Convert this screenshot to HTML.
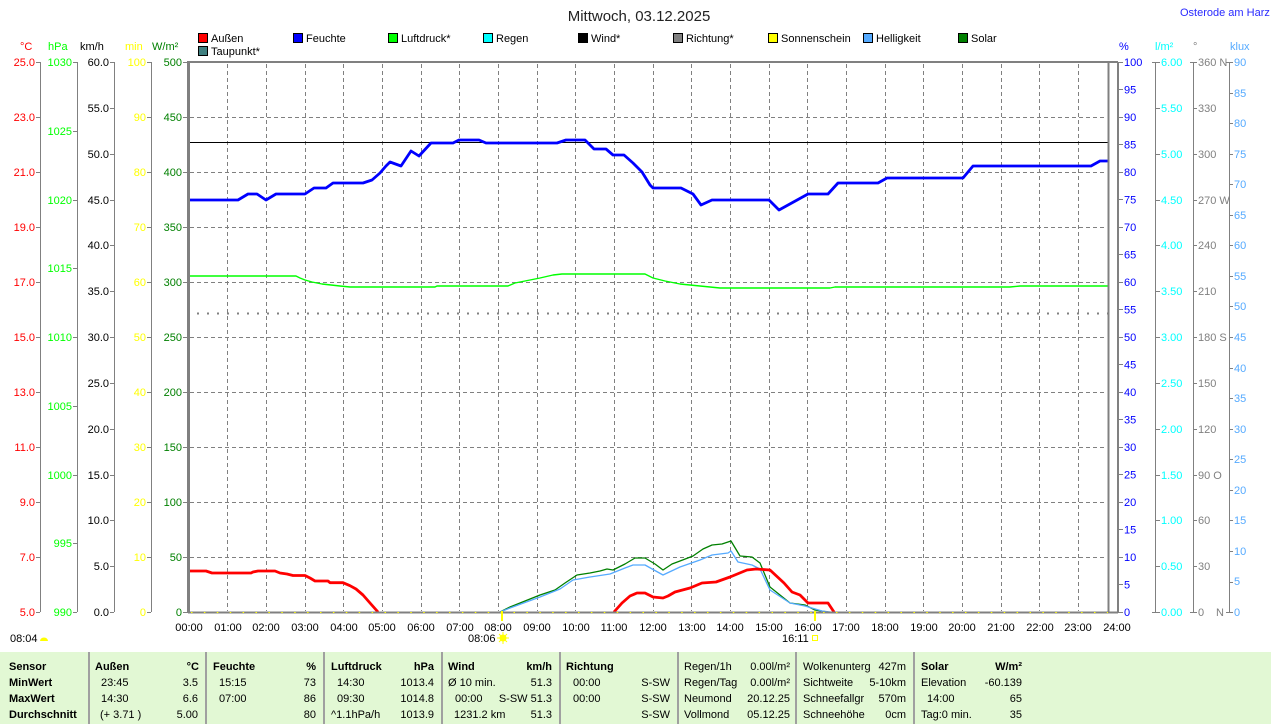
<!DOCTYPE html>
<html><head><meta charset="utf-8"><style>
html,body{margin:0;padding:0;background:#fff;}
svg{display:block;}
text{font-family:"Liberation Sans",Arial,sans-serif;font-size:11px;}
</style></head><body>
<svg width="1274" height="724" viewBox="0 0 1274 724" xmlns="http://www.w3.org/2000/svg">
<rect width="1274" height="724" fill="#fff"/>

<!-- title -->
<text x="639" y="21" text-anchor="middle" style="font-size:15px" fill="#222">Mittwoch, 03.12.2025</text>
<text x="1180" y="16" fill="#2a2aff">Osterode am Harz</text>

<!-- legend -->
<g stroke="#000" stroke-width="1" shape-rendering="crispEdges">
<rect x="198.5" y="33.5" width="9" height="9" fill="#ff0000"/>
<rect x="293.5" y="33.5" width="9" height="9" fill="#0000ff"/>
<rect x="388.5" y="33.5" width="9" height="9" fill="#00ff00"/>
<rect x="483.5" y="33.5" width="9" height="9" fill="#00ffff"/>
<rect x="578.5" y="33.5" width="9" height="9" fill="#000000"/>
<rect x="673.5" y="33.5" width="9" height="9" fill="#808080"/>
<rect x="768.5" y="33.5" width="9" height="9" fill="#ffff00"/>
<rect x="863.5" y="33.5" width="9" height="9" fill="#55aaff"/>
<rect x="958.5" y="33.5" width="9" height="9" fill="#008000"/>
<rect x="198.5" y="46.5" width="9" height="9" fill="#408080"/>
</g>
<g fill="#000">
<text x="211" y="42">Außen</text>
<text x="306" y="42">Feuchte</text>
<text x="401" y="42">Luftdruck*</text>
<text x="496" y="42">Regen</text>
<text x="591" y="42">Wind*</text>
<text x="686" y="42">Richtung*</text>
<text x="781" y="42">Sonnenschein</text>
<text x="876" y="42">Helligkeit</text>
<text x="971" y="42">Solar</text>
<text x="211" y="55">Taupunkt*</text>
</g>

<!-- axis headers -->
<text x="20" y="50" fill="#ff0000">°C</text>
<text x="48" y="50" fill="#00ff00">hPa</text>
<text x="80" y="50" fill="#000">km/h</text>
<text x="125" y="50" fill="#ffff00">min</text>
<text x="152" y="50" fill="#008000">W/m²</text>
<text x="1119" y="50" fill="#0000ff">%</text>
<text x="1155" y="50" fill="#00ffff">l/m²</text>
<text x="1193" y="50" fill="#808080">°</text>
<text x="1230" y="50" fill="#55aaff">klux</text>

<!-- grid -->
<g stroke="#808080" stroke-width="1" stroke-dasharray="4,3" shape-rendering="crispEdges" fill="none">
<path d="M190 117.5H1107M190 172.5H1107M190 227.5H1107M190 282.5H1107M190 337.5H1107M190 392.5H1107M190 447.5H1107M190 502.5H1107M190 557.5H1107"/>
<path d="M227.5 64V611M266.5 64V611M305.5 64V611M343.5 64V611M382.5 64V611M421.5 64V611M459.5 64V611M498.5 64V611M537.5 64V611M575.5 64V611M614.5 64V611M653.5 64V611M691.5 64V611M730.5 64V611M769.5 64V611M807.5 64V611M846.5 64V611M885.5 64V611M923.5 64V611M962.5 64V611M1001.5 64V611M1039.5 64V611M1078.5 64V611"/>
</g>

<!-- left axes lines & ticks -->
<g stroke="#808080" stroke-width="1" fill="none" shape-rendering="crispEdges">
<path d="M40.5 62V612"/>
<path d="M36 62.5H40M36 117.5H40M36 172.5H40M36 227.5H40M36 282.5H40M36 337.5H40M36 392.5H40M36 447.5H40M36 502.5H40M36 557.5H40M36 612.5H40"/>
<path d="M77.5 62V612"/>
<path d="M73 62.5H77M73 131.5H77M73 200.5H77M73 268.5H77M73 337.5H77M73 406.5H77M73 475.5H77M73 543.5H77M73 612.5H77"/>
<path d="M114.5 62V612"/>
<path d="M110 62.5H114M110 108.5H114M110 154.5H114M110 200.5H114M110 245.5H114M110 291.5H114M110 337.5H114M110 383.5H114M110 429.5H114M110 475.5H114M110 520.5H114M110 566.5H114M110 612.5H114"/>
<path d="M151.5 62V612"/>
<path d="M147 62.5H151M147 117.5H151M147 172.5H151M147 227.5H151M147 282.5H151M147 337.5H151M147 392.5H151M147 447.5H151M147 502.5H151M147 557.5H151M147 612.5H151"/>
<path d="M183 62.5H187M183 117.5H187M183 172.5H187M183 227.5H187M183 282.5H187M183 337.5H187M183 392.5H187M183 447.5H187M183 502.5H187M183 557.5H187M183 612.5H187"/>
<!-- right axes -->
<path d="M1119 62.5H1123M1119 89.5H1123M1119 117.5H1123M1119 144.5H1123M1119 172.5H1123M1119 199.5H1123M1119 227.5H1123M1119 254.5H1123M1119 282.5H1123M1119 309.5H1123M1119 337.5H1123M1119 364.5H1123M1119 392.5H1123M1119 419.5H1123M1119 447.5H1123M1119 474.5H1123M1119 502.5H1123M1119 529.5H1123M1119 557.5H1123M1119 584.5H1123M1119 612.5H1123"/>
<path d="M1155.5 62V612"/>
<path d="M1152 62.5H1160M1155 108.5H1160M1155 154.5H1160M1155 200.5H1160M1155 245.5H1160M1155 291.5H1160M1155 337.5H1160M1155 383.5H1160M1155 429.5H1160M1155 475.5H1160M1155 520.5H1160M1155 566.5H1160M1152 612.5H1160"/>
<path d="M1193.5 62V612"/>
<path d="M1190 62.5H1197M1193 108.5H1197M1193 154.5H1197M1193 200.5H1197M1193 245.5H1197M1193 291.5H1197M1193 337.5H1197M1193 383.5H1197M1193 429.5H1197M1193 475.5H1197M1193 520.5H1197M1193 566.5H1197M1190 612.5H1197"/>
<path d="M1229.5 62V612"/>
<path d="M1226 62.5H1233M1229 93.5H1233M1229 123.5H1233M1229 154.5H1233M1229 184.5H1233M1229 215.5H1233M1229 245.5H1233M1229 276.5H1233M1229 306.5H1233M1229 337.5H1233M1229 368.5H1233M1229 398.5H1233M1229 429.5H1233M1229 459.5H1233M1229 490.5H1233M1229 520.5H1233M1229 551.5H1233M1229 582.5H1233M1226 612.5H1233"/>
</g>

<!-- left axis labels -->
<g fill="#ff0000" text-anchor="end">
<text x="35" y="66">25.0</text><text x="35" y="121">23.0</text><text x="35" y="176">21.0</text><text x="35" y="231">19.0</text><text x="35" y="286">17.0</text><text x="35" y="341">15.0</text><text x="35" y="396">13.0</text><text x="35" y="451">11.0</text><text x="35" y="506">9.0</text><text x="35" y="561">7.0</text><text x="35" y="616">5.0</text>
</g>
<g fill="#00ff00" text-anchor="end">
<text x="72" y="66">1030</text><text x="72" y="135">1025</text><text x="72" y="204">1020</text><text x="72" y="272">1015</text><text x="72" y="341">1010</text><text x="72" y="410">1005</text><text x="72" y="479">1000</text><text x="72" y="547">995</text><text x="72" y="616">990</text>
</g>
<g fill="#000" text-anchor="end">
<text x="109" y="66">60.0</text><text x="109" y="112">55.0</text><text x="109" y="158">50.0</text><text x="109" y="204">45.0</text><text x="109" y="249">40.0</text><text x="109" y="295">35.0</text><text x="109" y="341">30.0</text><text x="109" y="387">25.0</text><text x="109" y="433">20.0</text><text x="109" y="479">15.0</text><text x="109" y="524">10.0</text><text x="109" y="570">5.0</text><text x="109" y="616">0.0</text>
</g>
<g fill="#ffff00" text-anchor="end">
<text x="146" y="66">100</text><text x="146" y="121">90</text><text x="146" y="176">80</text><text x="146" y="231">70</text><text x="146" y="286">60</text><text x="146" y="341">50</text><text x="146" y="396">40</text><text x="146" y="451">30</text><text x="146" y="506">20</text><text x="146" y="561">10</text><text x="146" y="616">0</text>
</g>
<g fill="#008000" text-anchor="end">
<text x="182" y="66">500</text><text x="182" y="121">450</text><text x="182" y="176">400</text><text x="182" y="231">350</text><text x="182" y="286">300</text><text x="182" y="341">250</text><text x="182" y="396">200</text><text x="182" y="451">150</text><text x="182" y="506">100</text><text x="182" y="561">50</text><text x="182" y="616">0</text>
</g>

<!-- right axis labels -->
<g fill="#0000ff">
<text x="1124" y="66">100</text><text x="1124" y="93.5">95</text><text x="1124" y="121">90</text><text x="1124" y="148.5">85</text><text x="1124" y="176">80</text><text x="1124" y="203.5">75</text><text x="1124" y="231">70</text><text x="1124" y="258.5">65</text><text x="1124" y="286">60</text><text x="1124" y="313.5">55</text><text x="1124" y="341">50</text><text x="1124" y="368.5">45</text><text x="1124" y="396">40</text><text x="1124" y="423.5">35</text><text x="1124" y="451">30</text><text x="1124" y="478.5">25</text><text x="1124" y="506">20</text><text x="1124" y="533.5">15</text><text x="1124" y="561">10</text><text x="1124" y="588.5">5</text><text x="1124" y="616">0</text>
</g>
<g fill="#00ffff">
<text x="1161" y="66">6.00</text><text x="1161" y="112">5.50</text><text x="1161" y="158">5.00</text><text x="1161" y="204">4.50</text><text x="1161" y="249">4.00</text><text x="1161" y="295">3.50</text><text x="1161" y="341">3.00</text><text x="1161" y="387">2.50</text><text x="1161" y="433">2.00</text><text x="1161" y="479">1.50</text><text x="1161" y="524">1.00</text><text x="1161" y="570">0.50</text><text x="1161" y="616">0.00</text>
</g>
<g fill="#808080">
<text x="1198" y="66">360 N</text><text x="1198" y="112">330</text><text x="1198" y="158">300</text><text x="1198" y="204">270 W</text><text x="1198" y="249">240</text><text x="1198" y="295">210</text><text x="1198" y="341">180 S</text><text x="1198" y="387">150</text><text x="1198" y="433">120</text><text x="1198" y="479">90 O</text><text x="1198" y="524">60</text><text x="1198" y="570">30</text><text x="1198" y="616">0</text><text x="1216" y="616">N</text>
</g>
<g fill="#55aaff">
<text x="1234" y="66">90</text><text x="1234" y="97">85</text><text x="1234" y="127">80</text><text x="1234" y="158">75</text><text x="1234" y="188">70</text><text x="1234" y="219">65</text><text x="1234" y="249">60</text><text x="1234" y="280">55</text><text x="1234" y="310">50</text><text x="1234" y="341">45</text><text x="1234" y="372">40</text><text x="1234" y="402">35</text><text x="1234" y="433">30</text><text x="1234" y="463">25</text><text x="1234" y="494">20</text><text x="1234" y="524">15</text><text x="1234" y="555">10</text><text x="1234" y="585">5</text><text x="1234" y="616">0</text>
</g>

<!-- series -->
<g fill="none" stroke-linejoin="round">
<!-- pressure -->
<polyline stroke="#00ff00" stroke-width="1.4" points="188,276 296,276 300,278 305,280 312,282 322,284 340,286 350,287 435,287 437,286 508,286 515,283 525,281 540,278 553,275 562,274 645,274 653,278 665,281 680,284 700,286 720,288 830,288 835,287 1010,287 1020,286 1108,286"/>
<!-- wind -->
<path d="M189 142.5H1108" stroke="#000" stroke-width="1" shape-rendering="crispEdges"/>
<!-- direction dotted -->
<path d="M197 313.5H1108" stroke="#808080" stroke-width="2" stroke-dasharray="2,8"/>
<!-- humidity -->
<polyline stroke="#0000ff" stroke-width="2.8" points="189,200 238,200 248,194 257,194 266,200 276,194 305,194 314,188 326,188 333,183 363,183 372,180 380,173 386,166 390,162 401,166 411,151 419,156 431,143 453,143 459,140 479,140 486,143 557,143 566,140 585,140 594,149 606,149 613,155 624,155 633,163 642,172 650,185 653,188 681,188 687,191 693,194 701,205 712,200 769,200 779,210 808,194 828,194 838,183 878,183 887,178 963,178 973,166 1091,166 1100,161 1108,161"/>
<!-- solar -->
<polyline stroke="#008000" stroke-width="1.3" points="500,612 510,607 540,595 555,590 565,583 577,575 590,573 600,571 607,569 613,570 625,564 635,558 645,558 655,564 663,570 672,564 680,561 693,556 703,549 712,545 722,544 731,541 740,556 752,557 760,563 770,587 790,603 805,605 815,610 828,612"/>
<!-- brightness -->
<polyline stroke="#55aaff" stroke-width="1.3" points="500,612 510,608 540,597 560,589 573,580 590,577 610,574 625,568 633,565 645,565 663,575 680,567 700,560 712,555 728,553 731,551 738,562 752,565 760,569 770,590 790,603 805,606 822,611 830,612"/>
<!-- temperature -->
<polyline stroke="#ff0000" stroke-width="2.8" points="189,571 206,571 209,572 212,573 251,573 253,572 258,571 275,571 280,573 287,574 293,575.5 305,575.5 310,578 315,581 328,581 330,582.7 343,582.7 350,585.7 356,589 363,595 370,603 378,612"/>
<polyline stroke="#ff0000" stroke-width="2.8" points="614,612 622,603 630,596 637,593 645,593 653,597 663,598 668,596 675,592 690,588 702,583 716,582 730,577 747,570 756,569 770,570 784,583 792,592 800,595 808,603 828,603 834,612"/>
</g>

<!-- frame -->
<g stroke="#808080" fill="none" shape-rendering="crispEdges">
<path d="M188.5 61V613" stroke-width="3"/>
<path d="M188 62H1118" stroke-width="2"/>
<path d="M188 612.5H1118" stroke-width="2"/>
<path d="M1108.5 62V612" stroke-width="2"/>
<path d="M1118 62V613" stroke-width="2"/>
</g>
<!-- sunshine dots -->
<path d="M191 612.5H1108" stroke="#ffff00" stroke-width="1" stroke-dasharray="1.5,11.4" fill="none"/>
<!-- sunrise/sunset markers -->
<path d="M502 611V621M815 611V621" stroke="#ffff00" stroke-width="2" fill="none"/>

<!-- x labels -->
<g fill="#000" text-anchor="middle">
<text x="189" y="631">00:00</text><text x="228" y="631">01:00</text><text x="266" y="631">02:00</text><text x="305" y="631">03:00</text><text x="344" y="631">04:00</text><text x="382" y="631">05:00</text><text x="421" y="631">06:00</text><text x="460" y="631">07:00</text><text x="498" y="631">08:00</text><text x="537" y="631">09:00</text><text x="576" y="631">10:00</text><text x="614" y="631">11:00</text><text x="653" y="631">12:00</text><text x="692" y="631">13:00</text><text x="730" y="631">14:00</text><text x="769" y="631">15:00</text><text x="808" y="631">16:00</text><text x="846" y="631">17:00</text><text x="885" y="631">18:00</text><text x="924" y="631">19:00</text><text x="962" y="631">20:00</text><text x="1001" y="631">21:00</text><text x="1040" y="631">22:00</text><text x="1078" y="631">23:00</text><text x="1117" y="631">24:00</text>
</g>
<text x="10" y="642" fill="#000">08:04</text>
<path d="M40 641 A4 3.5 0 0 1 48 641 Z" fill="#ffff00"/>
<text x="468" y="642" fill="#000">08:06</text>
<g stroke="#ffff00" stroke-width="1"><path d="M503 632V644M497 638H509M499 634L507 642M507 634L499 642"/></g>
<circle cx="503" cy="638" r="3.5" fill="#ffff00"/>
<text x="782" y="642" fill="#000">16:11</text>
<rect x="812.5" y="635.5" width="5" height="5" fill="none" stroke="#ffff00" stroke-width="1" shape-rendering="crispEdges"/>

<!-- table -->
<rect x="0" y="652" width="1271" height="72" fill="#e2f8d4"/>
<g stroke="#a0a0a0" stroke-width="2" shape-rendering="crispEdges">
<path d="M89 652V724M206 652V724M324 652V724M442 652V724M560 652V724M678 652V724M796 652V724M914 652V724"/>
</g>
<g fill="#000" style="font-weight:bold">
<text x="9" y="670">Sensor</text>
<text x="9" y="686">MinWert</text>
<text x="9" y="702">MaxWert</text>
<text x="9" y="718">Durchschnitt</text>
<text x="95" y="670">Außen</text>
<text x="199" y="670" text-anchor="end">°C</text>
<text x="213" y="670">Feuchte</text>
<text x="316" y="670" text-anchor="end">%</text>
<text x="331" y="670">Luftdruck</text>
<text x="434" y="670" text-anchor="end">hPa</text>
<text x="448" y="670">Wind</text>
<text x="552" y="670" text-anchor="end">km/h</text>
<text x="566" y="670">Richtung</text>
<text x="921" y="670">Solar</text>
<text x="1022" y="670" text-anchor="end">W/m²</text>
</g>
<g fill="#000">
<text x="101" y="686">23:45</text><text x="198" y="686" text-anchor="end">3.5</text>
<text x="101" y="702">14:30</text><text x="198" y="702" text-anchor="end">6.6</text>
<text x="100" y="718">(+ 3.71 )</text><text x="198" y="718" text-anchor="end">5.00</text>
<text x="219" y="686">15:15</text><text x="316" y="686" text-anchor="end">73</text>
<text x="219" y="702">07:00</text><text x="316" y="702" text-anchor="end">86</text>
<text x="316" y="718" text-anchor="end">80</text>
<text x="337" y="686">14:30</text><text x="434" y="686" text-anchor="end">1013.4</text>
<text x="337" y="702">09:30</text><text x="434" y="702" text-anchor="end">1014.8</text>
<text x="331" y="718">^1.1hPa/h</text><text x="434" y="718" text-anchor="end">1013.9</text>
<text x="448" y="686">Ø 10 min.</text><text x="552" y="686" text-anchor="end">51.3</text>
<text x="455" y="702">00:00</text><text x="552" y="702" text-anchor="end">S-SW 51.3</text>
<text x="454" y="718">1231.2 km</text><text x="552" y="718" text-anchor="end">51.3</text>
<text x="573" y="686">00:00</text><text x="670" y="686" text-anchor="end">S-SW</text>
<text x="573" y="702">00:00</text><text x="670" y="702" text-anchor="end">S-SW</text>
<text x="670" y="718" text-anchor="end">S-SW</text>
<text x="684" y="670">Regen/1h</text><text x="790" y="670" text-anchor="end">0.00l/m²</text>
<text x="684" y="686">Regen/Tag</text><text x="790" y="686" text-anchor="end">0.00l/m²</text>
<text x="684" y="702">Neumond</text><text x="790" y="702" text-anchor="end">20.12.25</text>
<text x="684" y="718">Vollmond</text><text x="790" y="718" text-anchor="end">05.12.25</text>
<text x="803" y="670">Wolkenunterg</text><text x="906" y="670" text-anchor="end">427m</text>
<text x="803" y="686">Sichtweite</text><text x="906" y="686" text-anchor="end">5-10km</text>
<text x="803" y="702">Schneefallgr</text><text x="906" y="702" text-anchor="end">570m</text>
<text x="803" y="718">Schneehöhe</text><text x="906" y="718" text-anchor="end">0cm</text>
<text x="921" y="686">Elevation</text><text x="1022" y="686" text-anchor="end">-60.139</text>
<text x="927" y="702">14:00</text><text x="1022" y="702" text-anchor="end">65</text>
<text x="921" y="718">Tag:0 min.</text><text x="1022" y="718" text-anchor="end">35</text>
</g>
</svg>
</body></html>
